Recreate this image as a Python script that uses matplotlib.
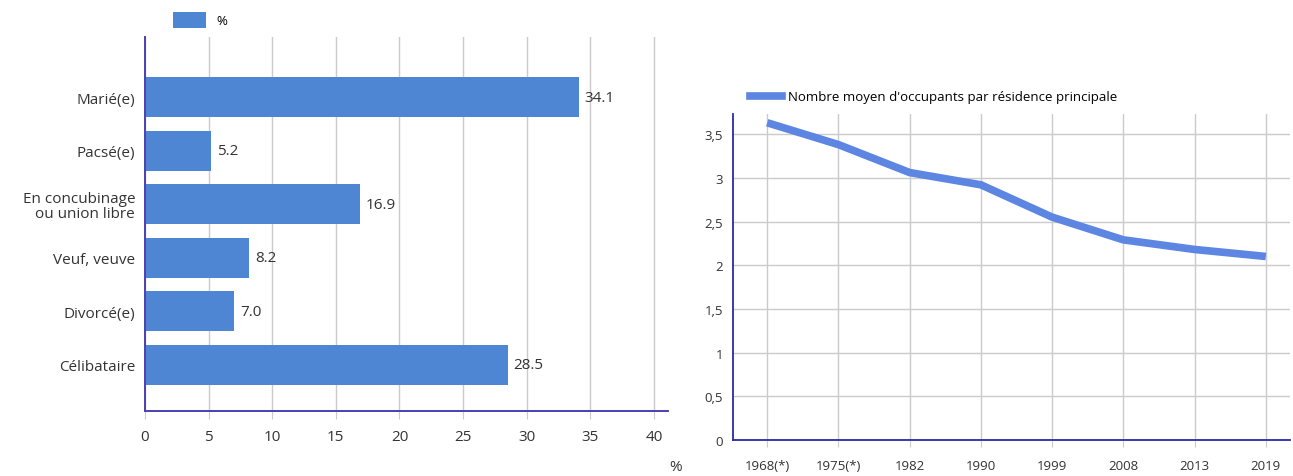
import matplotlib.pyplot as plt
from matplotlib.lines import Line2D
from matplotlib.patches import Patch

plt.rcParams['font.family'] = ['Open Sans', 'DejaVu Sans']

# Marital status shares (%)
categories = ["Marié(e)", "Pacsé(e)", "En concubinage\nou union libre",
              "Veuf, veuve", "Divorcé(e)", "Célibataire"]
shares = [34.1, 5.2, 16.9, 8.2, 7.0, 28.5]
share_ticks = [0, 5, 10, 15, 20, 25, 30, 35, 40]

# Average number of occupants per main residence
years = ["1968(*)", "1975(*)", "1982", "1990", "1999", "2008", "2013", "2019"]
occupants = [3.63, 3.38, 3.06, 2.92, 2.55, 2.29, 2.18, 2.10]
occ_ticks = [0, 0.5, 1, 1.5, 2, 2.5, 3, 3.5]

bar_color = "#4f86d4"
line_color = "#5c86e2"
grid_color = "#cbcbcb"
text_color = "#333333"

fig = plt.figure(figsize=(12.93, 4.77), dpi=100)

# ---- Horizontal bar chart ----
ax1 = fig.add_axes([0.1121, 0.1363, 0.4045, 0.7840])
ypos = list(range(len(categories)))
ax1.barh(ypos, shares, height=0.75, color=bar_color, zorder=3)
for y, v in zip(ypos, shares):
    ax1.text(v + 0.45, y, f"{v:.1f}", va="center", ha="left", fontsize=11, color=text_color)
ax1.set_yticks(ypos)
ax1.set_yticklabels(categories, fontsize=11, color=text_color, linespacing=1.0)
ax1.set_ylim(5.86, -1.12)
ax1.set_xlim(0, 41.1)
ax1.set_xticks(share_ticks)
ax1.set_xticklabels([str(t) for t in share_ticks], fontsize=11, color=text_color)
ax1.grid(axis="x", color=grid_color, linewidth=1, zorder=0)
ax1.tick_params(axis="x", length=6, color=grid_color, pad=7)
ax1.tick_params(axis="y", length=0, pad=7)
for s in ["top", "right"]:
    ax1.spines[s].set_visible(False)
for s in ["left", "bottom"]:
    ax1.spines[s].set_color("#4b3fb5")
    ax1.spines[s].set_linewidth(1.4)
    ax1.spines[s].set_zorder(4)
fig.text(676 / 1293, 1 - 468 / 477, "%", fontsize=11, color=text_color, ha="center", va="center")
fig.legend(handles=[Patch(facecolor=bar_color, edgecolor="none")], labels=["%"],
           loc="center left", bbox_to_anchor=(161 / 1293, 1 - 21 / 477), frameon=False,
           fontsize=9.5, handlelength=2.5, handleheight=1.5, handletextpad=0.8)

# ---- Line chart ----
ax2 = fig.add_axes([0.5669, 0.0755, 0.4308, 0.6834])
xpos = list(range(len(years)))
ax2.plot(xpos, occupants, color=line_color, linewidth=5.5, solid_capstyle="butt", zorder=3)
ax2.set_xlim(-0.48, 7.34)
ax2.set_ylim(0, 3.73)
ax2.set_xticks(xpos)
ax2.set_xticklabels(years, fontsize=9.5, color=text_color)
ax2.set_yticks(occ_ticks)
ax2.set_yticklabels([f"{t:g}".replace(".", ",") for t in occ_ticks], fontsize=9.5, color=text_color)
ax2.grid(True, color=grid_color, linewidth=1, zorder=0)
ax2.tick_params(axis="x", length=5, color=grid_color, pad=9)
ax2.tick_params(axis="y", length=0, pad=7)
for s in ["top", "right"]:
    ax2.spines[s].set_visible(False)
for s in ["left", "bottom"]:
    ax2.spines[s].set_color("#2a2aa8")
    ax2.spines[s].set_linewidth(1.3)
    ax2.spines[s].set_zorder(4)
fig.legend(handles=[Line2D([0], [0], color=line_color, linewidth=5.5)],
           labels=["Nombre moyen d'occupants par résidence principale"],
           loc="center left", bbox_to_anchor=(738 / 1293, 1 - 98 / 477), frameon=False,
           fontsize=9.5, handlelength=2.4, handletextpad=0.5)

fig.savefig("out.png", dpi=100)
